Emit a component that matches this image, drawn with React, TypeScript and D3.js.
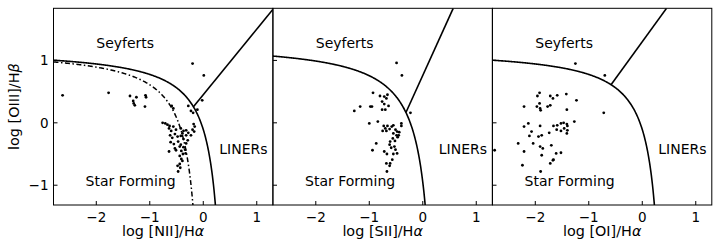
import React from 'react';
import * as d3 from 'd3';

const xTicks = [-2, -1, 0, 1];
const yTicks = [-1, 0, 1];
const xLabels = ['[NII]', '[SII]', '[OI]'];
const regionNames = ['Seyferts', 'Star Forming', 'LINERs'];

// demarcation curves, y = a / (x - b) + c
const kewleyNII = [0.61, 0.47, 1.19];
const kauffmannNII = [0.61, 0.05, 1.19];
const kewleySII = [0.72, 0.32, 1.3];
const kewleyOI = [0.61, 0.47, 1.19];
// seyfert / liner split, y = m x + k
const splitNII = [1.05, 0.45];
const splitSII = [1.89, 0.76];
const splitOI = [1.18, 1.3];

const niiX = [-2.63, -1.77, -1.37, -1.25, -1.31, -1.3, -1.28, -1.08, -1.07, -1.09, -0.2, 0.01, -0.02, -0.59, -0.56, -0.28, -0.23, -0.19, -0.11,
  -0.76, -0.71, -0.67, -0.63, -0.56, -0.64, -0.6, -0.51, -0.42, -0.37, -0.32, -0.28, -0.18, -0.16, -0.2, -0.17, -0.23, -0.62, -0.58, -0.53,
  -0.48, -0.42, -0.37, -0.39, -0.32, -0.29, -0.61, -0.55, -0.47, -0.42, -0.37, -0.32, -0.53, -0.44, -0.64, -0.51, -0.41, -0.38, -0.34, -0.44,
  -0.33, -0.41, -0.39, -0.44, -0.48, -0.43, -0.47];
const niiY = [0.44, 0.48, 0.43, 0.41, 0.35, 0.31, 0.28, 0.44, 0.41, 0.26, 0.95, 0.76, 0.36, 0.27, 0.23, 0.27, 0.19, 0.16, 0.21,
  0.0, -0.01, -0.03, -0.05, -0.06, -0.09, -0.13, -0.11, -0.09, -0.13, -0.12, -0.16, -0.02, -0.06, -0.11, -0.14, -0.2, -0.2, -0.24, -0.18,
  -0.22, -0.21, -0.26, -0.17, -0.2, -0.28, -0.31, -0.34, -0.3, -0.35, -0.39, -0.33, -0.41, -0.38, -0.46, -0.44, -0.45, -0.5, -0.43, -0.53,
  -0.49, -0.58, -0.61, -0.66, -0.69, -0.72, -0.78];

const siiX = [-0.49, -0.39, -0.93, -0.8, -0.72, -0.66, -0.68, -0.76, -0.72, -0.64, -0.76, -0.7, -0.98, -0.95, -1.17, -1.28, -0.23, -1.0,
  -0.84, -0.73, -0.7, -0.66, -0.62, -0.58, -0.55, -0.51, -0.48, -0.44, -0.4, -0.4, -0.75, -0.68, -0.55, -0.49, -0.56, -0.61, -0.62, -0.53,
  -0.51, -0.59, -0.87, -0.94, -0.72, -0.67, -0.55, -0.48, -0.57, -0.61, -0.68, -0.62, -0.67, -0.45, -0.47, -0.52];
const siiY = [0.96, 0.76, 0.48, 0.43, 0.42, 0.45, 0.39, 0.34, 0.3, 0.27, 0.21, 0.21, 0.26, 0.26, 0.26, 0.19, 0.16, -0.01,
  0.02, -0.05, -0.09, -0.05, -0.1, -0.06, -0.04, -0.11, -0.14, -0.15, -0.05, -0.01, -0.13, -0.13, -0.17, -0.2, -0.25, -0.3, -0.35, -0.38,
  -0.43, -0.4, -0.33, -0.44, -0.46, -0.5, -0.5, -0.49, -0.59, -0.65, -0.65, -0.69, -0.78, -0.2, -0.23, -0.29];

const oiX = [-1.25, -0.7, -2.76, -0.72, -1.23, -1.42, -1.41, -1.92, -1.96, -1.72, -1.67, -1.59, -2.21, -1.97, -1.92, -1.9, -1.77, -1.72,
  -1.91, -2.13, -2.21, -1.91, -1.66, -1.59, -1.52, -1.47, -1.41, -1.4, -1.27, -1.6, -1.52, -1.46, -1.4, -1.41, -2.07, -2.11, -1.94, -1.88,
  -1.74, -2.04, -2.32, -1.91, -1.86, -1.7, -1.61, -1.52, -2.21, -1.88, -1.72, -1.67, -2.24, -1.9, -1.66];
const oiY = [0.95, 0.76, -0.44, 0.16, 0.36, 0.46, 0.21, 0.48, 0.43, 0.43, 0.39, 0.44, 0.26, 0.26, 0.31, 0.2, 0.26, 0.28,
  0.23, -0.01, -0.06, -0.05, -0.05, -0.04, -0.01, 0.0, -0.02, -0.05, 0.02, -0.11, -0.13, -0.09, -0.12, -0.17, -0.14, -0.21, -0.22, -0.2,
  -0.16, -0.33, -0.33, -0.38, -0.41, -0.36, -0.49, -0.48, -0.46, -0.52, -0.65, -0.6, -0.68, -0.78, -0.59];

const W = 721;
const H = 252;
const panelLeft = [53.5, 273, 492.5];
const panelW = 219.3;
const top = 8.3;
const bottom = 205;
const xDomain = [-2.8, 1.3];
const yDomain = [-1.317, 1.835];

const panels = [
  { label: xLabels[0], curve: kewleyNII, dashed: kauffmannNII, split: splitNII, xs: niiX, ys: niiY },
  { label: xLabels[1], curve: kewleySII, dashed: null, split: splitSII, xs: siiX, ys: siiY },
  { label: xLabels[2], curve: kewleyOI, dashed: null, split: splitOI, xs: oiX, ys: oiY },
];

const fmt = (t: number) => (t < 0 ? `\u2212${-t}` : `${t}`);

function curvePoints(coef: number[]) {
  const [a, b, c] = coef;
  const xEnd = b + a / (yDomain[0] - c);
  const pts = d3.range(xDomain[0], xEnd, 0.01).map((x) => [x, a / (x - b) + c]);
  pts.push([xEnd, yDomain[0]]);
  return pts;
}

function splitPoints(coef: number[], split: number[]) {
  const [a, b, c] = coef;
  const [m, k] = split;
  const f = (x: number) => m * x + k - (a / (x - b) + c);
  let lo = -1.5, hi = b - 1e-4;
  for (let i = 0; i < 60; i++) {
    const mid = (lo + hi) / 2;
    if (f(mid) < 0) lo = mid; else hi = mid;
  }
  const x1 = Math.min((yDomain[1] - k) / m, xDomain[1]);
  return [[lo, m * lo + k], [x1, m * x1 + k]];
}

function Panel({ i }: { i: number }) {
  const p = panels[i];
  const x = d3.scaleLinear().domain(xDomain).range([panelLeft[i], panelLeft[i] + panelW]);
  const y = d3.scaleLinear().domain(yDomain).range([bottom, top]);
  const line = d3.line<number[]>().x((d) => x(d[0])).y((d) => y(d[1]));
  const clipId = `clip${i}`;
  return (
    <g>
      <clipPath id={clipId}>
        <rect x={x(xDomain[0])} y={top} width={panelW} height={bottom - top} />
      </clipPath>
      <g clipPath={`url(#${clipId})`}>
        <path d={line(curvePoints(p.curve)) || ''} fill="none" stroke="#000" strokeWidth={1.6} />
        {p.dashed && (
          <path d={line(curvePoints(p.dashed)) || ''} fill="none" stroke="#000" strokeWidth={1.5}
            strokeDasharray="5,2.5,1.5,2.5" />
        )}
        <path d={line(splitPoints(p.curve, p.split)) || ''} fill="none" stroke="#000" strokeWidth={1.6} />
        {p.xs.map((v, j) => (
          <circle key={j} cx={x(v)} cy={y(p.ys[j])} r={1.4} fill="#000" />
        ))}
      </g>
      <rect x={x(xDomain[0])} y={top} width={panelW} height={bottom - top} fill="none" stroke="#000" strokeWidth={1} />
      {xTicks.map((t) => (
        <g key={t}>
          <line x1={x(t)} x2={x(t)} y1={bottom} y2={bottom - 4} stroke="#000" strokeWidth={1} />
          <text x={x(t)} y={222} textAnchor="middle" fontSize={13.5}>{fmt(t)}</text>
        </g>
      ))}
      {yTicks.map((t) => (
        <g key={t}>
          <line x1={x(xDomain[0])} x2={x(xDomain[0]) + 4} y1={y(t)} y2={y(t)} stroke="#000" strokeWidth={1} />
          {i === 0 && (
            <text x={48.5} y={y(t)} dy="0.36em" textAnchor="end" fontSize={13.5}>{fmt(t)}</text>
          )}
        </g>
      ))}
      <text x={x(-2.0)} y={y(1.2)} fontSize={14}>{regionNames[0]}</text>
      <text x={x(-2.2)} y={y(-1.02)} fontSize={14}>{regionNames[1]}</text>
      <text x={x(0.3)} y={y(-0.5)} fontSize={14}>{regionNames[2]}</text>
      <text x={panelLeft[i] + panelW / 2} y={236} textAnchor="middle" fontSize={14.4}>
        log {p.label}/H<tspan fontStyle="italic">α</tspan>
      </text>
    </g>
  );
}

export default function App() {
  return (
    <svg width={W} height={H} style={{ position: 'absolute', left: 0, top: 0, background: '#fff' }}
      fontFamily="'DejaVu Sans', sans-serif">
      {panels.map((_, i) => <Panel key={i} i={i} />)}
      <text transform={`translate(18.5, ${(top + bottom) / 2}) rotate(-90)`} textAnchor="middle" fontSize={14.4}>
        log [OIII]/H<tspan fontStyle="italic">β</tspan>
      </text>
    </svg>
  );
}
